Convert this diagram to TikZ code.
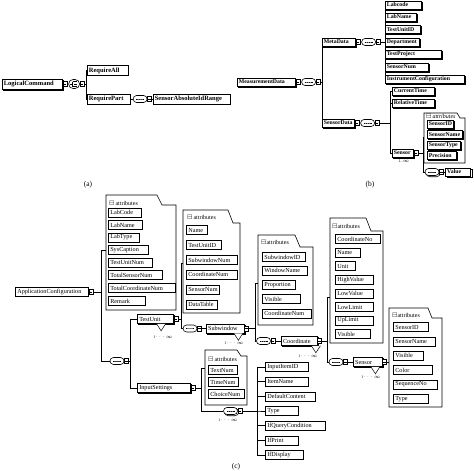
\documentclass[tikz,border=0pt]{standalone}
\usepackage{amssymb}
\usepackage{fontspec}
\setmainfont{Liberation Serif}
\usetikzlibrary{
    positioning,
    shapes.misc,
    shadows
}
\hyphenpenalty=10000
\exhyphenpenalty=10000
\tikzstyle{elem} = [
    rectangle,
    draw=black,
    line width=0.6pt,
    fill=white,
    anchor=west,
    align=left,
    inner xsep=2pt,
    inner ysep=0pt,
    minimum height=9pt,
    font=\fontsize{6.2}{7}\selectfont
]
\tikzstyle{shd} = [
    copy shadow={shadow xshift=1.2pt, shadow yshift=-1.2pt}
]
\tikzstyle{belem} = [
    elem,
    shd,
    line width=0.8pt,
    inner xsep=1.5pt,
    minimum height=8pt,
    font=\bfseries\fontsize{5.8}{7}\selectfont
]
\tikzstyle{aelem} = [
    elem,
    line width=0.8pt,
    inner xsep=1.5pt,
    minimum height=10pt,
    font=\bfseries\fontsize{6.5}{7}\selectfont
]
\tikzstyle{plug} = [
    rectangle,
    draw=black,
    fill=white,
    line width=0.5pt,
    minimum width=4pt,
    minimum height=5pt,
    inner sep=0pt,
    path picture={\draw[line width=0.4pt]
        ([xshift=0.7pt]path picture bounding box.west) --
        ([xshift=-0.7pt]path picture bounding box.east);}
]
\tikzstyle{seqc} = [
    rounded rectangle,
    draw=black,
    fill=white,
    line width=0.6pt,
    minimum width=14pt,
    minimum height=7pt,
    inner sep=0pt,
    path picture={
        \draw[line width=0.4pt] ([xshift=-4pt]path picture bounding box.center) --
            ([xshift=4pt]path picture bounding box.center);
        \fill ([xshift=-2pt]path picture bounding box.center) circle (0.7pt)
              (path picture bounding box.center) circle (0.7pt)
              ([xshift=2pt]path picture bounding box.center) circle (0.7pt);}
]
\tikzstyle{choicec} = [
    rounded rectangle,
    draw=black,
    fill=white,
    line width=0.6pt,
    minimum width=11pt,
    minimum height=9pt,
    inner sep=0pt,
    path picture={
        \draw[line width=0.4pt]
            ([xshift=-4pt]path picture bounding box.center) --
            ([xshift=-1.5pt]path picture bounding box.center)
            ([xshift=-1.5pt,yshift=2.5pt]path picture bounding box.center) --
            ([xshift=-1.5pt,yshift=-2.5pt]path picture bounding box.center)
            ([xshift=-1.5pt,yshift=2.5pt]path picture bounding box.center) --
            ([xshift=2.5pt,yshift=2.5pt]path picture bounding box.center)
            ([xshift=0pt]path picture bounding box.center) --
            ([xshift=2.5pt]path picture bounding box.center)
            ([xshift=-1.5pt,yshift=-2.5pt]path picture bounding box.center) --
            ([xshift=2.5pt,yshift=-2.5pt]path picture bounding box.center);}
]
\tikzstyle{attrbox} = [
    draw=black,
    line width=0.6pt,
    fill=white
]
\tikzstyle{attrhead} = [
    anchor=west,
    inner sep=0pt,
    font=\fontsize{6}{7}\selectfont
]
\tikzstyle{conn} = [
    draw=black,
    line width=0.6pt
]
\tikzstyle{tri} = [
    draw=black,
    line width=0.5pt,
    fill=white
]
\tikzstyle{mult} = [
    inner sep=0pt,
    font=\fontsize{4}{4}\selectfont
]
\tikzstyle{caption} = [
    font=\fontsize{7.5}{8}\selectfont
]

\begin{document}
\begin{tikzpicture}[x=1pt, y=-1pt]
        \path[fill=white] (0,0) rectangle (474,471);
        \useasboundingbox (0,0) rectangle (474,471);

        % (a) LogicalCommand
        \node[aelem, shd, text width=57pt] (lc) at (2,84) {LogicalCommand};
        \node[plug, right=0pt of lc] (lcp) {};
        \node[choicec, right=1pt of lcp] (lcch) {};
        \node[plug, right=0pt of lcch] (lcchp) {};
        \node[aelem, text width=38pt] (reqall) at (87,70.5) {RequireAll};
        \node[aelem, text width=40pt] (reqpart) at (87,99) {RequirePart};
        \node[seqc, right=2pt of reqpart] (rpseq) {};
        \node[plug, right=0pt of rpseq] (rpseqp) {};
        \node[aelem, text width=74pt, right=1pt of rpseqp] (sair) {SensorAbsoluteIdRange};

        \draw[conn] (lcp) -- (lcch);
        \draw[conn] (lcchp.east) -- ++(2,0) |- (reqall.west);
        \draw[conn] (lcchp.east) -- ++(2,0) |- (reqpart.west);
        \draw[conn] (reqpart) -- (rpseq);
        \draw[conn] (rpseqp) -- (sair);

        % (b) MeasurementData
        \node[belem, text width=55pt] (md) at (237,82) {MeasurementData};
        \node[plug, right=0pt of md] (mdp) {};
        \node[seqc, right=1pt of mdp] (mdseq) {};
        \node[plug, right=0pt of mdseq] (mdseqp) {};

        % MetaData
        \node[belem, text width=30pt] (meta) at (322,42) {MetaData};
        \node[plug, right=0pt of meta] (metap) {};
        \node[seqc, right=1pt of metap] (metaseq) {};
        \node[plug, right=0pt of metaseq] (metaseqp) {};
        \node[belem, text width=33pt] (labcode) at (385,5) {Labcode};
        \node[belem, text width=28pt] (labname) at (385,17) {LabName};
        \node[belem, text width=32pt] (tuid) at (385,29.5) {TestUnitID};
        \node[belem, text width=31pt] (dept) at (385,42) {Department};
        \node[belem, text width=53pt] (tproj) at (385,54.5) {TestProject};
        \node[belem, text width=40pt] (snum) at (385,67) {SensorNum};
        \node[belem, text width=76pt] (instcfg) at (385,79) {InstrumentConfiguration};

        % SensorData
        \node[belem, text width=29pt] (sdata) at (322,123) {SensorData};
        \node[plug, right=0pt of sdata] (sdatap) {};
        \node[seqc, right=1pt of sdatap] (sdseq) {};
        \node[plug, right=0pt of sdseq] (sdseqp) {};
        \node[belem, text width=39pt] (curtime) at (392,91) {CurrentTime};
        \node[belem, text width=39pt] (reltime) at (392,103) {RelativeTime};
        \node[belem, text width=18pt] (bsens) at (392,153) {Sensor};
        \node[plug, right=0pt of bsens] (bsensp) {};
        \node[mult] (bsmult) at (404,161.5) {1..$\infty$};

        % Sensor attributes
        \draw[attrbox] (424,113) -- (457,113) -- (460,118) -- (465,118)
            -- (465,163) -- (424,163) -- cycle;
        \coordinate (battr) at (424,137);
        \node[attrhead] (bhead) at (426,116) {$\boxminus$\,\textit{attributes}};
        \node[belem, text width=23pt] (bsid) at (427,124) {SensorID};
        \node[belem, text width=32pt] (bsname) at (427,134.5) {SensorName};
        \node[belem, text width=30pt] (bstype) at (427,145) {SensorType};
        \node[belem, text width=26pt] (bprec) at (427,155.5) {Precision};
        \node[seqc, shd] (bsseq) at (432,172) {};
        \node[plug, right=0pt of bsseq] (bsseqp) {};
        \node[belem, text width=22pt, right=1.5pt of bsseqp] (value) {Value};

        \draw[conn] (mdp) -- (mdseq);
        \draw[conn] (mdseqp.east) -- ++(1.5,0) |- (meta.west);
        \draw[conn] (mdseqp.east) -- ++(1.5,0) |- (sdata.west);
        \draw[conn] (metap) -- (metaseq);
        \draw[conn] (metaseqp.east) -- ++(5,0) |- (labcode.west);
        \draw[conn] (metaseqp.east) -- ++(5,0) |- (labname.west);
        \draw[conn] (metaseqp.east) -- ++(5,0) |- (tuid.west);
        \draw[conn] (metaseqp.east) -- ++(5,0) |- (dept.west);
        \draw[conn] (metaseqp.east) -- ++(5,0) |- (tproj.west);
        \draw[conn] (metaseqp.east) -- ++(5,0) |- (snum.west);
        \draw[conn] (metaseqp.east) -- ++(5,0) |- (instcfg.west);
        \draw[conn] (sdatap) -- (sdseq);
        \draw[conn] (sdseqp.east) -- ++(11,0) |- (curtime.west);
        \draw[conn] (sdseqp.east) -- ++(11,0) |- (reltime.west);
        \draw[conn] (sdseqp.east) -- ++(11,0) |- (bsens.west);
        \draw[conn] (bsensp.east) -- ++(5,0) |- (battr);
        \draw[conn] (bsensp.east) -- ++(5,0) |- (bsseq.west);
        \draw[conn] (bsseqp) -- (value);

        % (c) ApplicationConfiguration
        \node[elem, text width=69pt] (appcfg) at (15,292) {ApplicationConfiguration};
        \node[plug, right=0pt of appcfg] (appcfgp) {};
        \node[seqc] (appseq) at (117,361) {};
        \node[plug, right=0pt of appseq] (appseqp) {};

        % attributes of ApplicationConfiguration
        \draw[attrbox] (106,195) -- (157,195) -- (162,205) -- (176,205)
            -- (176,310) -- (106,310) -- cycle;
        \coordinate (attr1) at (106,250);
        \node[attrhead] (head1) at (109,203) {$\boxminus$\,attributes};
        \node[elem, text width=29pt] (labcode2) at (108,212.5) {LabCode};
        \node[elem, text width=30pt] (labname2) at (108,225) {LabName};
        \node[elem, text width=27pt] (labtype) at (108,237.5) {LabType};
        \node[elem, text width=36pt] (syscap) at (108,250) {SysCaption};
        \node[elem, text width=40pt] (tunum) at (108,262.5) {TestUnitNum};
        \node[elem, text width=50pt] (totsens) at (108,275) {TotalSensorNum};
        \node[elem, text width=63pt] (totcoord) at (108,288) {TotalCoordinateNum};
        \node[elem, text width=33pt] (remark) at (108,301) {Remark};

        % TestUnit
        \node[elem, shd, text width=32pt] (tunit) at (137,319) {TestUnit};
        \node[plug, right=0pt of tunit] (tunitp) {};
        \node[seqc] (tuseq) at (190,328.5) {};
        \node[plug, right=0pt of tuseq] (tuseqp) {};
        \draw[attrbox] (183,210) -- (228,210) -- (233,223) -- (240,223)
            -- (240,313) -- (183,313) -- cycle;
        \coordinate (attr2) at (183,263);
        \node[attrhead] (head2) at (187,217) {$\boxminus$\,attributes};
        \node[elem, text width=17pt] (name2) at (186,230) {Name};
        \node[elem, text width=31pt] (tuid2) at (186,245) {TestUnitID};
        \node[elem, text width=47pt] (swnum) at (186,260) {SubwindowNum};
        \node[elem, text width=47pt] (coordnum) at (186,274.5) {CoordinateNum};
        \node[elem, text width=29pt] (snum2) at (186,289.5) {SensorNum};
        \node[elem, text width=27pt] (dtable) at (186,304.5) {DataTable};

        % Subwindow
        \node[elem, shd, text width=34pt, right=4pt of tuseqp] (subw) {Subwindow};
        \node[plug, right=0pt of subw] (subwp) {};
        \node[seqc] (swseq) at (263.5,341) {};
        \node[plug, right=0pt of swseq] (swseqp) {};
        \draw[attrbox] (258,235) -- (295,235) -- (300,247) -- (313,247)
            -- (313,325) -- (258,325) -- cycle;
        \coordinate (attr4) at (258,283);
        \node[attrhead] (head4) at (261,242) {$\boxminus$attributes};
        \node[elem, text width=39pt] (swid) at (262,257) {SubwindowID};
        \node[elem, text width=41pt] (wname) at (262,270.5) {WindowName};
        \node[elem, text width=29pt] (prop) at (262,285) {Proportion};
        \node[elem, text width=34pt] (vis4) at (262,299) {Visible};
        \node[elem, text width=45pt] (coordnum4) at (262,313.5) {CoordinateNum};

        % Coordinate
        \node[elem, shd, text width=32pt, right=5.5pt of swseqp] (coord) {Coordinate};
        \node[plug, right=0pt of coord] (coordp) {};
        \node[seqc] (coseq) at (336,362) {};
        \node[plug, right=0pt of coseq] (coseqp) {};
        \draw[attrbox] (330,218) -- (366,218) -- (371,231) -- (383,231)
            -- (383,343) -- (330,343) -- cycle;
        \coordinate (attr5) at (330,297);
        \node[attrhead] (head5) at (332,226) {$\boxminus$attributes};
        \node[elem, text width=41pt] (coordno) at (335,239) {CoordinateNo};
        \node[elem, text width=21pt] (name5) at (335,252.6) {Name};
        \node[elem, text width=16pt] (unit) at (335,266.2) {Unit};
        \node[elem, text width=34pt] (hival) at (335,279.8) {HighValue};
        \node[elem, text width=34pt] (loval) at (335,293.4) {LowValue};
        \node[elem, text width=34pt] (lolim) at (335,307) {LowLimit};
        \node[elem, text width=34pt] (uplim) at (335,320.6) {UpLimit};
        \node[elem, text width=31pt] (vis5) at (335,334.2) {Visible};

        % Sensor
        \node[elem, shd, text width=25pt, right=5pt of coseqp] (sens) {Sensor};
        \node[plug, right=0pt of sens] (sensp) {};
        \draw[attrbox] (389,308) -- (428,308) -- (432,318) -- (442,318)
            -- (442,407) -- (389,407) -- cycle;
        \coordinate (attr6) at (389,362);
        \node[attrhead] (head6) at (392,315) {$\boxminus$attributes};
        \node[elem, text width=31pt] (sid) at (393,327) {SensorID};
        \node[elem, text width=38pt] (sname) at (393,341.4) {SensorName};
        \node[elem, text width=26pt] (vis6) at (393,355.8) {Visible};
        \node[elem, text width=35pt] (color) at (393,370.2) {Color};
        \node[elem, text width=40pt] (seqno) at (393,384.6) {SequenceNo};
        \node[elem, text width=31pt] (stype) at (393,399) {Type};

        % InputSettings
        \node[elem, shd, text width=49pt] (inset) at (137,388) {InputSettings};
        \node[plug, right=0pt of inset] (insetp) {};
        \node[seqc, shd] (inseq) at (230.5,411) {};
        \node[plug, right=0pt of inseq] (inseqp) {};
        \draw[attrbox] (205,350) -- (237,350) -- (241,356) -- (247,356)
            -- (247,405) -- (205,405) -- cycle;
        \coordinate (attr3) at (205,368);
        \node[attrhead] (head3) at (208,359) {$\boxminus$\,attributes};
        \node[elem, text width=25pt] (textnum) at (208,370) {TextNum};
        \node[elem, text width=26pt] (timenum) at (208,382) {TimeNum};
        \node[elem, text width=32pt] (choicenum) at (208,394) {ChoiceNum};
        \node[elem, text width=39pt] (initem) at (265,367) {InputItemID};
        \node[elem, text width=39pt] (itname) at (265,381.7) {ItemName};
        \node[elem, text width=46pt] (defc) at (265,396.3) {DefaultContent};
        \node[elem, text width=29pt] (itype) at (265,411) {Type};
        \node[elem, text width=56pt] (ifq) at (265,425.7) {IfQueryCondition};
        \node[elem, text width=29pt] (ifp) at (265,440.3) {IfPrint};
        \node[elem, text width=34pt] (ifd) at (265,455) {IfDisplay};

        % multiplicity marks
        \draw[tri] ([xshift=-17pt]tunit.south east) -- ++(4.5,7) -- ++(4.5,-7);
        \draw[tri] ([xshift=-10.5pt]subw.south east) -- ++(4.5,7) -- ++(4.5,-7);
        \draw[tri] ([xshift=-6pt]coord.south east) -- ++(4.5,7) -- ++(4.5,-7);
        \draw[tri] ([xshift=-11.5pt]sens.south east) -- ++(4.5,7) -- ++(4.5,-7);
        \node[mult] (tumult) at (163,337) {1$\cdots\infty$};
        \node[mult] (swmult) at (234,343) {1$\cdots\infty$};
        \node[mult] (comult) at (308,356) {1$\cdots\infty$};
        \node[mult] (semult) at (371,377) {1$\cdots\infty$};
        \node[mult] (inmult) at (228,420) {1$\cdots\infty$};

        % Connectors
        \draw[conn] (appcfgp.east) -- ++(8,0) |- (attr1);
        \draw[conn] (appcfgp.east) -- ++(8,0) |- (appseq.west);
        \draw[conn] (appseqp.east) -- ++(1.5,0) |- (tunit.west);
        \draw[conn] (appseqp.east) -- ++(1.5,0) |- (inset.west);
        \draw[conn] (tunitp.east) -- ++(3,0) |- (attr2);
        \draw[conn] (tunitp.east) -- ++(3,0) |- (tuseq.west);
        \draw[conn] (tuseqp) -- (subw);
        \draw[conn] (subwp.east) -- ++(6,0) |- (attr4);
        \draw[conn] (subwp.east) -- ++(6,0) |- (swseq.west);
        \draw[conn] (swseqp) -- (coord);
        \draw[conn] (coordp.east) -- ++(5,0) |- (attr5);
        \draw[conn] (coordp.east) -- ++(5,0) |- (coseq.west);
        \draw[conn] (coseqp) -- (sens);
        \draw[conn] (sensp.east) -- (attr6);
        \draw[conn] (insetp.east) -- ++(6,0) |- (attr3);
        \draw[conn] (insetp.east) -- ++(6,0) |- (inseq.west);
        \draw[conn] (inseqp.east) -- ++(14.5,0) |- (initem.west);
        \draw[conn] (inseqp.east) -- ++(14.5,0) |- (itname.west);
        \draw[conn] (inseqp.east) -- ++(14.5,0) |- (defc.west);
        \draw[conn] (inseqp.east) -- ++(14.5,0) |- (itype.west);
        \draw[conn] (inseqp.east) -- ++(14.5,0) |- (ifq.west);
        \draw[conn] (inseqp.east) -- ++(14.5,0) |- (ifp.west);
        \draw[conn] (inseqp.east) -- ++(14.5,0) |- (ifd.west);

        % Captions
        \node[caption] (capa) at (88,185) {(a)};
        \node[caption] (capb) at (370,185) {(b)};
        \node[caption] (capc) at (236,467) {(c)};
    \end{tikzpicture}
\end{document}
